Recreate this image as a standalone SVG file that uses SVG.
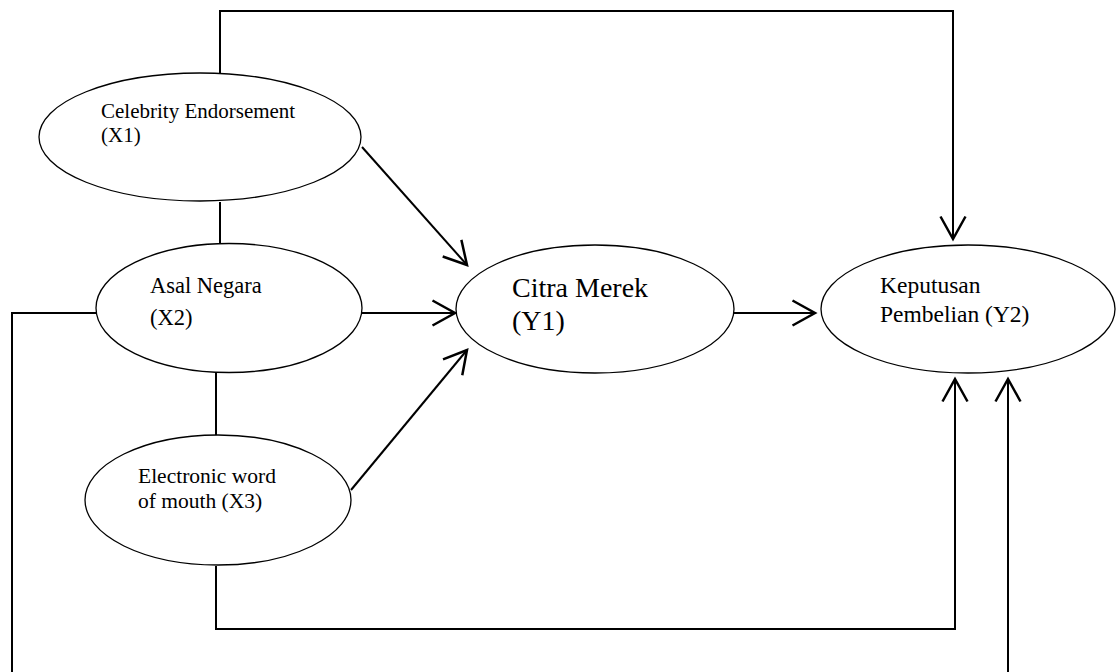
<svg xmlns="http://www.w3.org/2000/svg" width="1116" height="672" viewBox="0 0 1116 672">
<defs>
<style>
.node{fill:#fff;stroke:#000;stroke-width:1.3}
.conn{fill:none;stroke:#000;stroke-width:2}
.t{font-family:"Liberation Serif","Times New Roman",serif;fill:#000}
</style>
<marker id="arr" markerUnits="userSpaceOnUse" markerWidth="30" markerHeight="30" viewBox="-20 -12 22 24" refX="0" refY="0" orient="auto">
<path d="M-18,-10 L0,0 L-18,10" fill="none" stroke="#000" stroke-width="2"/>
</marker>
</defs>
<rect width="1116" height="672" fill="#fff"/>
<g id="connectors">
<polyline class="conn" points="220,73 220,11 953,11 953,239" marker-end="url(#arr)"/>
<line class="conn" x1="220" y1="202" x2="220" y2="243"/>
<line class="conn" x1="216" y1="373" x2="216" y2="436"/>
<line class="conn" x1="362" y1="147" x2="467" y2="265" marker-end="url(#arr)"/>
<line class="conn" x1="362" y1="313" x2="455" y2="313" marker-end="url(#arr)"/>
<line class="conn" x1="351" y1="490" x2="467" y2="350" marker-end="url(#arr)"/>
<line class="conn" x1="734" y1="313" x2="815" y2="313" marker-end="url(#arr)"/>
<polyline class="conn" points="96,313 12,313 12,672"/>
<polyline class="conn" points="216,566 216,629 955,629 955,379" marker-end="url(#arr)"/>
<polyline class="conn" points="1008,672 1008,379" marker-end="url(#arr)"/>
</g>
<g id="x1">
<ellipse class="node" cx="200" cy="137" rx="161" ry="64"/>
<text class="t" font-size="21" x="101" y="118">Celebrity Endorsement</text>
<text class="t" font-size="21" x="101" y="142">(X1)</text>
</g>
<g id="x2">
<ellipse class="node" cx="229" cy="308" rx="133" ry="64.5"/>
<text class="t" font-size="22.5" x="150" y="293">Asal Negara</text>
<text class="t" font-size="22.5" x="150" y="325">(X2)</text>
</g>
<g id="x3">
<ellipse class="node" cx="218" cy="500" rx="133" ry="65"/>
<text class="t" font-size="21.5" x="138" y="483">Electronic word</text>
<text class="t" font-size="21.5" x="138" y="508">of mouth (X3)</text>
</g>
<g id="y1">
<ellipse class="node" cx="595" cy="309" rx="139" ry="64"/>
<text class="t" font-size="28" x="512" y="297">Citra Merek</text>
<text class="t" font-size="28" x="512" y="330">(Y1)</text>
</g>
<g id="y2">
<ellipse class="node" cx="968" cy="309" rx="147" ry="64"/>
<text class="t" font-size="23.5" x="880" y="293">Keputusan</text>
<text class="t" font-size="23.5" x="880" y="322">Pembelian (Y2)</text>
</g>
</svg>
